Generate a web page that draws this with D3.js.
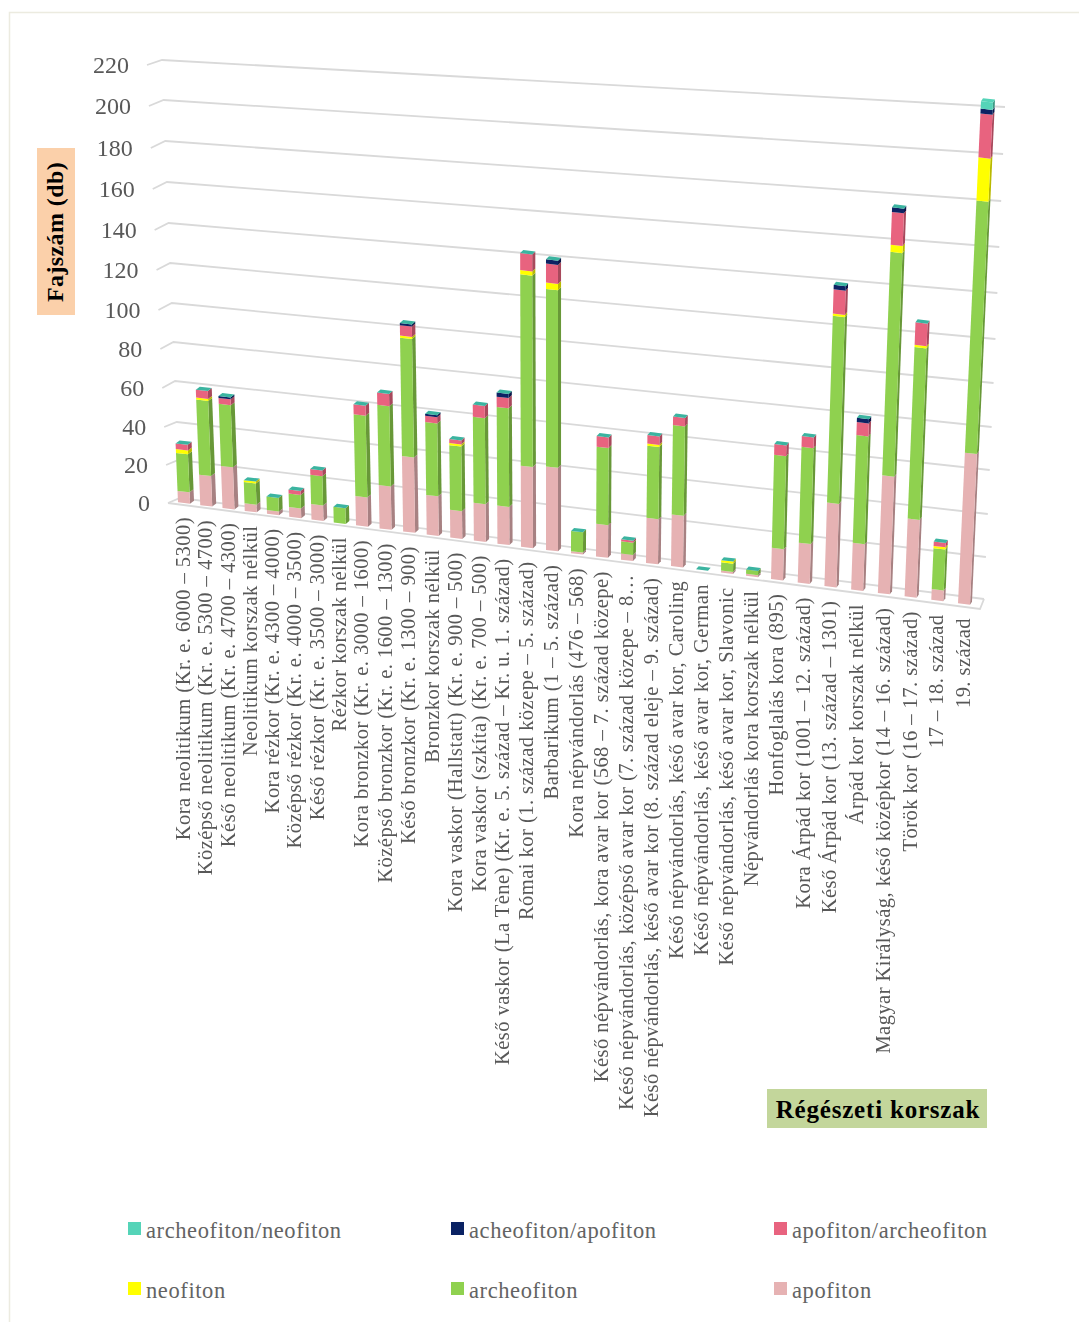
<!DOCTYPE html>
<html><head><meta charset="utf-8">
<script src="https://cdn.jsdelivr.net/npm/d3@7"></script>
<style>html,body{margin:0;background:#fff;overflow:hidden}svg{display:block}text{font-family:"Liberation Serif",serif}</style>
</head><body><div id="c"></div>
<script>
const categories=["Kora neolitikum (Kr. e. 6000 – 5300)","Középső neolitikum (Kr. e. 5300 – 4700)","Késő neolitikum (Kr. e. 4700 – 4300)","Neolitikum korszak nélkül","Kora rézkor (Kr. e. 4300 – 4000)","Középső rézkor (Kr. e. 4000 – 3500)","Késő rézkor (Kr. e. 3500 – 3000)","Rézkor korszak nélkül","Kora bronzkor (Kr. e. 3000 – 1600)","Középső bronzkor (Kr. e. 1600 – 1300)","Késő bronzkor (Kr. e. 1300 – 900)","Bronzkor korszak nélkül","Kora vaskor (Hallstatt) (Kr. e. 900 – 500)","Kora vaskor (szkíta) (Kr. e. 700 – 500)","Késő vaskor (La Tène) (Kr. e. 5. század – Kr. u. 1. század)","Római kor (1. század közepe – 5. század)","Barbarikum (1 – 5. század)","Kora népvándorlás (476 – 568)","Késő népvándorlás, kora avar kor (568 – 7. század közepe)","Késő népvándorlás, középső avar kor (7. század közepe – 8…","Késő népvándorlás, késő avar kor (8. század eleje – 9. század)","Késő népvándorlás, késő avar kor, Caroling","Késő népvándorlás, késő avar kor, German","Késő népvándorlás, késő avar kor, Slavonic","Népvándorlás kora korszak nélkül","Honfoglalás kora (895)","Kora Árpád kor (1001 – 12. század)","Késő Árpád kor (13. század – 1301)","Árpád kor korszak nélkül","Magyar Királyság, késő középkor (14 – 16. század)","Török kor (16 – 17. század)","17 – 18. század","19. század"];
const apofiton=[6,16,22,4,2,5,8,0,15,22,38,20,14,19,19,40,41,1,16,3,22,25,0,1,1,15,19,39,22,54,36,5,68];
const archeofiton=[20,39,32,11,7,7,15,8,41,40,58,36,32,42,48,91,84,10,37,6,34,42,0,4,2,43,44,84,49,99,76,19,109];
const neofiton=[2,1,0,1,0,0,0,0,0,0,1,0,1,0,0,2,3,0,0,0,1,0,0,1,0,0,0,1,0,3,1,1,18];
const apoArcheo=[3,4,3,0,0,2,3,0,5,6,5,3,2,6,5,8,9,0,5,1,4,4,0,0,0,5,5,11,6,14,10,2,18];
const acheoApo=[0,0,1,0,0,0,0,0,0,0,1,1,0,0,2,0,2,0,0,0,0,0,0,0,0,0,0,2,2,2,0,0,2];
const archeoNeo=[0,0,0,0,0,0,0,0,0,0,0,0,0,0,0,0,0,0,0,0,0,0,0,0,0,0,0,0,0,0,0,0,3];
const yTicks=d3.range(0,221,20);
const seriesNames=["archeofiton/neofiton","acheofiton/apofiton","apofiton/archeofiton","neofiton","archeofiton","apofiton"];
const seriesColors=["#55d4b8","#0a2263","#e8637f","#ffff00","#8fd14f","#e6b2b3"];
const seriesValues=[archeoNeo,acheoApo,apoArcheo,neofiton,archeofiton,apofiton];

const W=1079,H=1322;
const svg=d3.select("#c").append("svg").attr("width",W).attr("height",H);
const defs=svg.append("defs");
defs.append("filter").attr("id","soft").append("feGaussianBlur").attr("stdDeviation",0.45);
defs.append("filter").attr("id","softText").attr("x","-5%").attr("y","-5%").attr("width","110%").attr("height","110%").append("feGaussianBlur").attr("stdDeviation",0.3);

// frame
svg.append("path").attr("d",`M9.5,${H}V12.5H${W}`).attr("fill","none").attr("stroke","#ecebe0").attr("stroke-width",1.5);

// projection of the 3-D plot
const idx=[0,8,15,25,32];
const xBase=d3.scaleLinear().domain(idx).range([184,362,527,777,964]);
const tOf=d3.scaleLinear().domain([184,964]).range([0,1]);
const yBaseT=d3.scaleLinear().domain([0,1]).range([503,604]);
const hLeft=d3.scaleLinear().domain(yTicks).range([0,38,76,115,154,193,233,273,314,355,397,438]);
const hRight=d3.scaleLinear().domain(yTicks).range([0,43,87.5,133,177,224.5,270,315,362.6,410,458,507]);
const lean=d3.scaleLinear().domain([0,1]).range([-0.041,0.0458]);
function P(i,v,off){
  const xb=xBase(i),t=tOf(xb),h=hLeft(v)*(1-t)+hRight(v)*t;
  return [xb+lean(t)*h+off,yBaseT(t)-h+off*0.12];
}
// walls
const wallLX=d3.scaleLinear().domain([0,220]).range([180,162]);
const wallRX=d3.scaleLinear().domain([0,220]).range([984,1005]);
const frontLX=d3.scaleLinear().domain([0,220]).range([168,147]);
const wallLY=d3.scaleLinear().domain(yTicks).range([498,460,422,381,342,303,263,223,182,141,100,60]);
const wallRY=d3.scaleLinear().domain(yTicks).range([599,557,514,470,427,383,339,293,247,201,154,107]);
const tickY=d3.scaleLinear().domain(yTicks).range([503,465,427,388,349,310,270,230,189,148,106,65]);
const grid=svg.append("g").attr("fill","none").attr("stroke","#d9d9d9").attr("stroke-width",1.8).attr("filter","url(#soft)");
yTicks.forEach(v=>{
  grid.append("path").attr("d",d3.line()([[frontLX(v),tickY(v)],[wallLX(v),wallLY(v)],[wallRX(v),wallRY(v)]]));
});
grid.append("path").attr("d",d3.line()([[frontLX(0),tickY(0)],[980,609],[wallRX(0),wallRY(0)]]));

// bars
const bars=svg.append("g").attr("filter","url(#soft)");
const halfW=6;
const depthX=d3.scaleLinear().domain([0,1]).range([4,2]);
const order=[5,4,3,2,1,0];
categories.forEach((c,i)=>{
  const xb=xBase(i),t=tOf(xb),dx=depthX(t),dy=-3;
  let cum=0;
  const poly=(pts,fill)=>bars.append("polygon").attr("points",pts.map(p=>p.join(",")).join(" ")).attr("fill",fill);
  order.forEach(s=>{
    const val=seriesValues[s][i];
    if(val<=0)return;
    const a=cum,b=cum+val;cum=b;
    const c0=d3.color(seriesColors[s]);
    const bl=P(i,a,-halfW),br=P(i,a,halfW),tr=P(i,b,halfW),tl=P(i,b,-halfW);
    poly([br,[br[0]+dx,br[1]+dy],[tr[0]+dx,tr[1]+dy],tr],c0.darker(0.9).formatHex());
    poly([bl,br,tr,tl],seriesColors[s]);
  });
  const tl=P(i,cum,-halfW),tr=P(i,cum,halfW);
  poly([tl,tr,[tr[0]+dx,tr[1]+dy],[tl[0]+dx,tl[1]+dy]],archeoNeo[i]>0?"#55d4b8":"#3bb4a0");
});

// y tick labels
const txt="#595959";
svg.append("g").attr("filter","url(#softText)").selectAll("text").data(yTicks).join("text")
 .attr("x",v=>frontLX(v)-18).attr("y",v=>tickY(v)+8).attr("text-anchor","end").attr("font-size",24).attr("fill",txt).text(v=>v);

// category labels
svg.append("g").attr("filter","url(#softText)").selectAll("text").data(categories).join("text")
 .attr("transform",(c,i)=>{const xb=xBase(i);return `translate(${xb+6},${yBaseT(tOf(xb))+14}) rotate(-90)`;})
 .attr("text-anchor","end").attr("font-size",20.5).attr("letter-spacing",0.47).attr("fill",txt).text(c=>c);

// axis titles
svg.append("rect").attr("x",37).attr("y",148).attr("width",38).attr("height",167).attr("fill","#fbd0aa");
svg.append("text").attr("transform","translate(63,232) rotate(-90)").attr("text-anchor","middle").attr("font-size",24).attr("font-weight","bold").attr("letter-spacing",0.4).attr("fill","#000").text("Fajszám (db)");
svg.append("rect").attr("x",767).attr("y",1089).attr("width",220).attr("height",39).attr("fill","#c3d69b");
svg.append("text").attr("x",878).attr("y",1118).attr("text-anchor","middle").attr("font-size",25).attr("font-weight","bold").attr("letter-spacing",0.8).attr("fill","#000").text("Régészeti korszak");

// legend
const legX=d3.scalePoint().domain([0,1,2]).range([128,774]);
const legY=d3.scalePoint().domain([0,1]).range([1222,1282]);
const lg=svg.append("g").selectAll("g").data(seriesNames).join("g")
 .attr("transform",(d,i)=>`translate(${legX(i%3)},${legY(Math.floor(i/3))})`);
lg.append("rect").attr("width",13).attr("height",13).attr("fill",(d,i)=>seriesColors[i]);
lg.append("text").attr("x",18).attr("y",16).attr("font-size",22.5).attr("letter-spacing",0.6).attr("fill","#636363").text(d=>d);
</script></body></html>
